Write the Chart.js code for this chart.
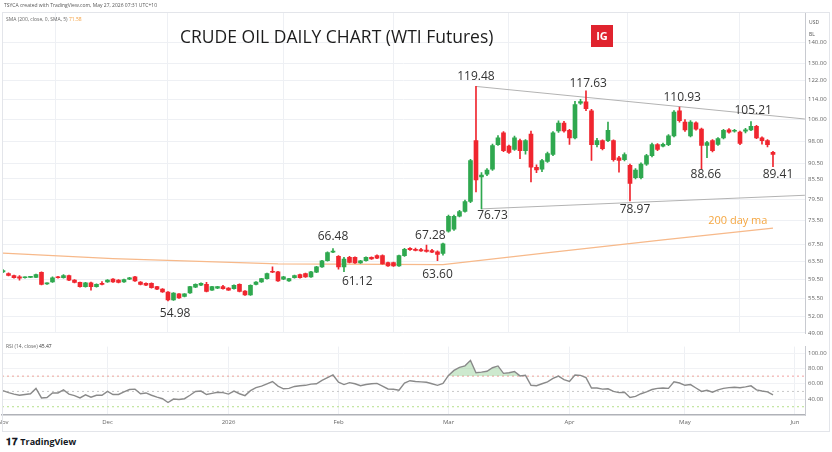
<!DOCTYPE html>
<html><head><meta charset="utf-8">
<script src="https://cdn.jsdelivr.net/npm/chart.js@4"></script>
<style>
html,body{margin:0;padding:0;background:#fff;width:832px;height:452px;overflow:hidden;font-family:"Open Sans","Noto Sans",sans-serif;}
#wrap{position:relative;width:832px;height:452px;}
canvas{position:absolute;left:0;}
#c1{top:0;}
#c2{top:340px;}
.t{position:absolute;white-space:nowrap;}
#hdr{left:4px;top:2px;font-size:5px;color:#555;}
#sma{left:6px;top:16px;font-size:5px;color:#666;}
#rsih{left:6px;top:343px;font-size:5px;color:#666;}
#title{left:180px;top:24px;font-size:17.5px;color:#1d1d1d;}
#ig{left:591px;top:25px;width:22px;height:22px;background:#e0232e;color:#fff;font-size:11px;font-weight:bold;text-align:center;line-height:22px;}
#usd{left:809px;top:16px;font-size:5px;color:#555;line-height:12px;}
#tv{left:6px;top:434px;font-size:9px;font-weight:bold;color:#131722;}
#frame{position:absolute;left:2px;top:12px;width:828px;height:420px;border:1px solid #e3e5ea;box-sizing:border-box;pointer-events:none;}
</style></head>
<body><div id="wrap">
<canvas id="c1" width="832" height="340"></canvas>
<canvas id="c2" width="832" height="92"></canvas>
<div id="frame"></div>
<div class="t" id="hdr">TSYCA created with TradingView.com, May 27, 2026 07:31 UTC+10</div>
<div class="t" id="sma">SMA (200, close, 0, SMA, 5) <span style="color:#f39c3a">71.58</span></div>
<div class="t" id="rsih">RSI (14, close) <span style="color:#333">45.47</span></div>
<div class="t" id="title">CRUDE OIL DAILY CHART (WTI Futures)</div>
<div class="t" id="ig">IG</div>
<div class="t" id="usd">USD<br>BL</div>
<div class="t" id="tv"><span style="font-size:10px;">𝟏𝟕</span> TradingView</div>
</div>
<script>
// ---- data (bar index 0 = 3 Nov 2025 ... 140 = 26 May 2026) ----
const open  = [61.1,60.7,60.3,60.0,59.8,59.9,59.9,61.0,58.5,58.9,60.0,59.8,60.3,59.3,58.8,57.9,58.7,57.9,58.6,58.9,59.5,59.3,58.9,59.5,60.0,58.9,58.6,58.6,57.9,57.4,56.8,55.2,56.4,55.9,56.6,57.8,58.2,58.4,57.2,57.6,57.9,57.6,57.5,58.4,57.0,56.2,58.4,58.9,59.6,61.2,61.1,59.5,59.1,59.8,60.5,60.7,60.0,61.0,62.2,63.6,65.6,64.6,62.2,64.4,64.4,63.1,63.6,64.4,64.8,64.8,63.2,63.2,62.4,64.8,66.5,66.3,66.2,66.1,66.0,65.7,65.3,70.8,71.3,74.7,76.0,78.8,98.2,86.1,87.0,88.6,96.8,101.0,96.3,95.1,98.2,94.7,100.6,89.2,88.6,91.1,93.4,101.7,104.6,101.9,99.2,112.5,113.0,109.4,96.8,98.2,98.2,98.2,92.3,91.7,89.8,85.9,85.9,90.2,93.0,96.8,96.3,96.8,99.9,109.4,105.0,99.9,104.7,102.4,96.5,98.2,96.9,99.2,102.1,101.6,101.3,101.6,102.1,103.4,99.2,98.2,94.1];
const high  = [61.6,60.9,60.4,60.3,60.0,60.1,60.6,61.1,58.7,60.0,60.1,60.5,60.4,59.4,58.9,58.8,58.9,58.5,59.0,59.4,59.6,59.4,59.5,59.9,60.1,59.0,58.7,58.7,58.0,57.5,56.9,56.7,56.5,56.5,58.0,58.5,58.7,58.8,58.0,58.0,58.2,57.7,58.3,58.5,57.1,58.3,59.0,59.7,60.8,62.2,61.2,60.1,59.7,60.4,60.6,60.8,61.2,62.3,63.7,65.7,66.48,64.8,64.4,64.6,64.5,63.7,64.5,64.5,65.0,65.0,63.3,63.3,64.9,66.5,66.7,66.6,66.5,67.28,66.3,65.9,67.8,75.0,75.0,76.3,79.2,91.8,119.48,87.5,88.8,97.0,100.0,101.5,96.6,99.8,98.8,98.6,101.7,90.0,91.8,94.2,101.5,105.5,105.3,102.3,113.2,114.0,117.63,110.0,99.0,98.5,105.0,98.5,92.8,94.0,90.2,88.8,90.6,93.5,97.3,97.2,97.3,100.4,109.5,110.93,106.0,105.6,105.1,102.8,98.0,98.6,99.3,102.3,102.6,102.3,101.7,102.7,105.21,103.8,99.6,98.6,94.5];
const low   = [60.9,60.2,59.7,59.3,59.7,59.8,59.8,58.3,58.4,58.8,59.7,59.7,59.2,58.7,57.8,57.8,57.2,57.8,58.3,58.8,58.8,58.7,58.8,59.4,59.0,58.3,58.1,57.6,57.3,56.7,54.98,55.1,55.5,55.8,56.5,57.7,58.1,56.8,57.1,57.5,57.4,57.1,57.4,56.8,56.1,56.1,58.3,58.8,59.5,60.9,59.0,59.4,59.0,59.7,59.7,59.9,59.9,60.9,62.1,63.5,65.5,61.7,61.12,63.1,63.0,63.0,63.5,63.9,64.1,62.8,62.3,62.3,62.3,64.6,66.0,65.9,65.8,65.6,65.5,63.60,64.9,70.5,71.0,74.5,75.8,78.5,81.6,76.73,86.5,88.2,96.5,94.4,93.8,94.8,92.0,93.5,84.6,87.5,87.8,90.8,93.0,101.2,101.3,96.9,98.8,112.0,109.5,91.4,96.0,95.0,97.8,91.2,87.6,91.3,78.97,85.5,85.5,89.8,92.6,94.7,96.0,96.4,99.5,105.0,101.5,99.5,102.0,88.66,92.3,94.3,96.5,98.8,100.9,101.3,96.8,101.0,101.8,98.9,97.0,96.0,89.41];
const close = [61.4,60.3,59.8,59.7,59.9,60.0,60.5,58.4,58.6,59.8,59.8,60.3,59.3,58.8,57.9,58.7,57.9,58.4,58.4,59.3,58.9,58.8,59.4,59.8,59.1,58.4,58.2,57.7,57.4,56.8,55.2,56.6,55.6,56.4,57.9,58.4,58.6,56.9,57.9,57.9,57.5,57.2,58.2,56.9,56.2,58.2,58.9,59.6,60.7,61.0,59.1,60.0,59.6,60.3,59.8,60.0,61.1,62.2,63.6,65.5,65.7,62.2,64.0,63.2,63.1,63.6,64.4,64.0,64.2,62.9,62.4,62.4,64.8,66.3,66.2,66.0,65.9,65.8,65.6,65.1,67.6,74.7,74.7,76.0,78.8,91.4,85.2,86.7,88.3,96.5,99.2,94.7,94.1,99.2,94.7,98.2,89.2,88.3,91.4,93.7,101.0,104.6,101.7,99.2,111.9,113.1,110.2,96.8,98.2,95.4,101.9,91.7,91.4,93.4,84.1,88.3,90.2,93.0,96.8,95.1,96.9,99.9,108.9,105.6,102.1,105.0,102.4,96.5,97.5,94.7,98.9,101.9,101.3,101.9,97.2,102.1,103.4,99.2,98.2,96.8,93.4];
const rsi   = [51,48.5,46.5,45,46,47,54,41.5,42,48,48,52,46.5,44.5,41.5,45.5,42.5,45,45,50,46,46,49.5,52.5,53,47,48,45,42.5,40.5,35.5,40,39.5,40.5,45,50,50.5,46,47.5,49,48.5,46.5,50.5,47,44.5,51,55,57,60,63,57,53.5,54,56.5,57.5,58,59.5,60,64.5,68,71.5,62,59,61.5,60,57.5,59,60,60.5,57,53.2,52.8,51.5,61,64,63,62.5,62,60,58,60.5,71,77.5,81.5,83.5,90.6,74.4,75.2,76.4,81,83.3,73.6,74.5,76,70.3,71.1,58.1,57.5,60,62.5,67,70,65.5,63,71.5,71,68,54.5,54.5,53,53.5,50,48.5,49,42,43.5,47,49.5,52.5,54,54.5,54,62.5,61,58,59,54.5,50,51.5,49,52,54,55,55.5,54.9,56,57.3,52,50.5,49.5,45.5];
// 200-day SMA read at a few bars (straight segments in the picture)
const smaIdx = [0,20,40,50,80,100,120,140];
const smaVal = [65.4,64.1,63.3,62.9,62.7,65.6,68.6,71.58];
// trendlines (bar index, price)
const upperIdx = [86,145.8], upperVal = [119.48,106.2];
const lowerIdx = [87,145.8], lowerVal = [76.73,80.6];
// month ticks
const monthIdx = [0,19,41,61,81,103,124,144];
const monthLbl = ['Nov','Dec','2026','Feb','Mar','Apr','May','Jun'];
const priceTicks = [49,52,55.5,59.5,63.5,67.5,73.5,79.5,85.5,90.5,98,106,114,122,130,140];
const rsiTicks = [40,60,80,100];
const rsiLevels = [70,50,30];
// price labels: text, bar index, price, pixel offset
const labelText = ['119.48','117.63','110.93','105.21','88.66','89.41','78.97','76.73','67.28','63.60','66.48','61.12','54.98'];
const labelIdx  = [86,106.4,123.5,136.4,127.8,140.9,114.9,89,77.7,79,60,64.4,31.3];
const labelVal  = [119.48,117.63,110.93,105.21,88.66,89.41,78.97,76.73,67.28,63.60,66.48,61.12,54.98];
const labelDy   = [-10,-7,-9,-11,6,8,9,7,-10,13.5,-12,9.5,13];

const GREEN='#2fa84f', RED='#f0262f';
const cols = open.map((o,i)=> close[i]>=o ? GREEN : RED);
const bodies = open.map((o,i)=>({x:i,y:[o,close[i]]}));
const wicks = open.map((o,i)=>({x:i,y:[low[i],high[i]]}));
const XMIN=-0.18, XMAX=145.82;

const labelPlugin = {
  id:'lbls',
  afterDatasetsDraw(ch){
    const c=ch.ctx, xs=ch.scales.x, ys=ch.scales.y;
    c.save();
    c.font='12px "Open Sans", sans-serif';
    c.fillStyle='#333'; c.textAlign='center'; c.textBaseline='middle';
    labelText.forEach((t,i)=>{
      c.fillText(t, xs.getPixelForValue(labelIdx[i]), ys.getPixelForValue(labelVal[i])+labelDy[i]);
    });
    c.font='11px "Open Sans", sans-serif';
    c.fillStyle='#f5a742';
    c.fillText('200 day ma', xs.getPixelForValue(133.6), ys.getPixelForValue(73.4));
    c.restore();
  }
};

const monthPlugin = {
  id:'months',
  afterDraw(ch){
    const c=ch.ctx, xs=ch.scales.x;
    c.save();
    c.font='6px "Open Sans", sans-serif';
    c.fillStyle='#666'; c.textAlign='center'; c.textBaseline='middle';
    monthIdx.forEach((v,i)=>{ c.fillText(monthLbl[i], xs.getPixelForValue(v), ch.chartArea.bottom+7); });
    c.restore();
  }
};

new Chart(document.getElementById('c1'), {
  type:'bar',
  data:{datasets:[
    {type:'line', data: smaIdx.map((x,i)=>({x,y:smaVal[i]})), borderColor:'#f7b98a', borderWidth:1.3, pointRadius:0, order:5},
    {type:'line', data: upperIdx.map((x,i)=>({x,y:upperVal[i]})), borderColor:'#b3b3b3', borderWidth:1, pointRadius:0, order:4},
    {type:'line', data: lowerIdx.map((x,i)=>({x,y:lowerVal[i]})), borderColor:'#b3b3b3', borderWidth:1, pointRadius:0, order:4},
    {type:'bar', data: wicks, backgroundColor: cols, barThickness:1, grouped:false, order:2},
    {type:'bar', data: bodies, backgroundColor: cols, barThickness:4, grouped:false, order:1, minBarLength:1}
  ]},
  options:{
    animation:false, responsive:false, maintainAspectRatio:false,
    layout:{padding:{top:12,left:2,right:0,bottom:0}},
    plugins:{legend:{display:false}, tooltip:{enabled:false}},
    scales:{
      x:{type:'linear', min:XMIN, max:XMAX, offset:false,
         afterBuildTicks:s=>{s.ticks=monthIdx.map(v=>({value:v}));},
         ticks:{display:false}, grid:{color:'#eef0f4', drawTicks:false}, border:{display:false},
         afterFit:s=>{s.height=0;}},
      y:{type:'logarithmic', position:'right', min:48.9, max:156.4,
         afterBuildTicks:s=>{s.ticks=priceTicks.map(v=>({value:v}));},
         ticks:{callback:v=>Number(v).toFixed(2), font:{size:6,family:'"Open Sans", sans-serif'}, color:'#666', padding:3, autoSkip:false},
         grid:{color:'#eef0f4', drawTicks:false}, border:{display:true,color:'#c8cad0'},
         afterFit:s=>{s.width=27;}}
    }
  },
  plugins:[labelPlugin]
});

new Chart(document.getElementById('c2'), {
  type:'line',
  data:{datasets:[
    {data: rsi.map((v,i)=>({x:i,y:v})), borderColor:'#8a8a8a', borderWidth:1.4, pointRadius:0, tension:0,
     fill:{target:{value:70}, above:'rgba(76,175,80,0.28)', below:'rgba(0,0,0,0)'}},
    {data:[{x:XMIN,y:rsiLevels[0]},{x:XMAX,y:rsiLevels[0]}], borderColor:'#f2a0a0', borderWidth:1, borderDash:[2,3], pointRadius:0},
    {data:[{x:XMIN,y:rsiLevels[1]},{x:XMAX,y:rsiLevels[1]}], borderColor:'#c8c8c8', borderWidth:1, borderDash:[2,3], pointRadius:0},
    {data:[{x:XMIN,y:rsiLevels[2]},{x:XMAX,y:rsiLevels[2]}], borderColor:'#b5e08a', borderWidth:1, borderDash:[2,3], pointRadius:0}
  ]},
  options:{
    animation:false, responsive:false, maintainAspectRatio:false,
    layout:{padding:{top:3,left:2,right:0,bottom:0}},
    plugins:{legend:{display:false}, tooltip:{enabled:false}},
    scales:{
      x:{type:'linear', min:XMIN, max:XMAX, offset:false,
         afterBuildTicks:s=>{s.ticks=monthIdx.map(v=>({value:v}));},
         ticks:{display:false},
         grid:{color:'#eef0f4', drawTicks:false}, border:{display:true,color:'#b0b2b8',width:1.5},
         afterFit:s=>{s.height=17;}},
      y:{type:'linear', position:'right', min:19.2, max:108.6,
         afterBuildTicks:s=>{s.ticks=rsiTicks.map(v=>({value:v}));},
         ticks:{callback:v=>Number(v).toFixed(2), font:{size:6,family:'"Open Sans", sans-serif'}, color:'#666', padding:3},
         grid:{color:'#f1f2f5', drawTicks:false}, border:{display:true,color:'#c8cad0'},
         afterFit:s=>{s.width=27;}}
    }
  },
  plugins:[monthPlugin]
});
</script>
</body></html>
